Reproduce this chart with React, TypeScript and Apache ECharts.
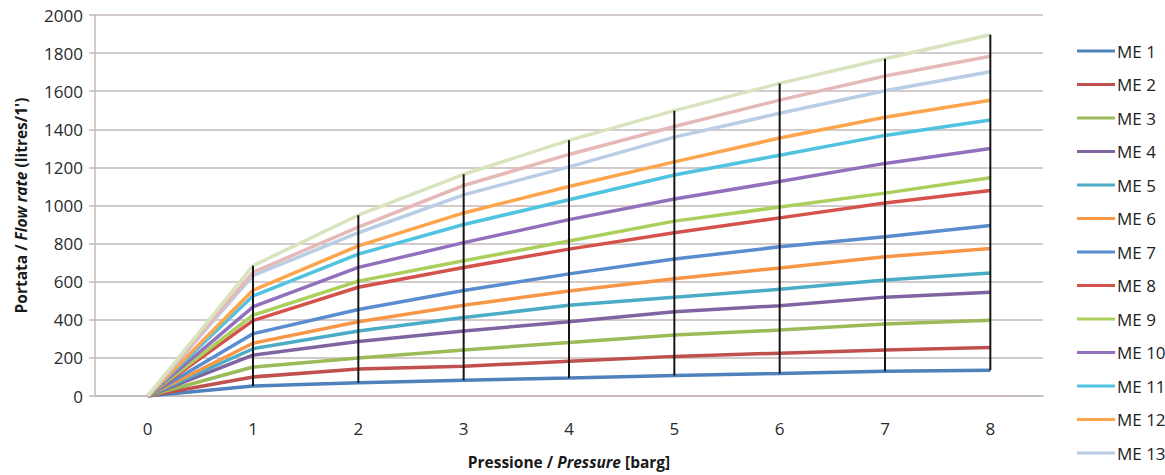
import React, { useEffect, useRef } from "react";
import * as echarts from "echarts";

const categories = ["0", "1", "2", "3", "4", "5", "6", "7", "8"];
const seriesNames = [
  "ME 1", "ME 2", "ME 3", "ME 4", "ME 5", "ME 6", "ME 7", "ME 8",
  "ME 9", "ME 10", "ME 11", "ME 12", "ME 13", "ME 14", "ME 15",
];
const legendNames = seriesNames.slice(0, 13);

const me1 = [0, 52, 69, 83, 95, 108, 118, 130, 135];
const me2 = [0, 100, 142, 156, 182, 208, 225, 242, 254];
const me3 = [0, 152, 199, 242, 281, 320, 346, 378, 397];
const me4 = [0, 215, 286, 341, 390, 442, 474, 519, 545];
const me5 = [0, 248, 341, 412, 476, 519, 560, 609, 646];
const me6 = [0, 277, 390, 476, 551, 615, 672, 731, 774];
const me7 = [0, 327, 454, 554, 641, 719, 783, 836, 895];
const me8 = [0, 396, 571, 675, 771, 857, 935, 1013, 1079];
const me9 = [0, 424, 603, 710, 814, 918, 992, 1065, 1146];
const me10 = [0, 468, 675, 805, 926, 1034, 1126, 1221, 1299];
const me11 = [0, 525, 745, 900, 1030, 1160, 1264, 1368, 1449];
const me12 = [0, 555, 788, 961, 1100, 1229, 1354, 1463, 1553];
const me13 = [0, 632, 857, 1056, 1203, 1359, 1484, 1602, 1702];
const me14 = [0, 649, 887, 1105, 1268, 1415, 1553, 1680, 1783];
const me15 = [0, 684, 949, 1164, 1342, 1498, 1641, 1770, 1896];

const allValues = [me1, me2, me3, me4, me5, me6, me7, me8, me9, me10, me11, me12, me13, me14, me15];

const colors = [
  "#4F81BD", "#C0504D", "#9BBB59", "#8064A2", "#4BACC6", "#F79646",
  "#5A8CD0", "#D4524B", "#AACF5A", "#9270BE", "#4FC3DF", "#FDA54C",
  "#B9CDE5", "#E6B9B8", "#D7E4BD",
];

export default function App() {
  const ref = useRef<HTMLDivElement>(null);

  useEffect(() => {
    if (!ref.current) return;
    const chart = echarts.init(ref.current, undefined, { renderer: "svg" });

    const hiLo = categories
      .map((c, i) => {
        const vals = allValues.map((s) => s[i]);
        return [i, Math.min(...vals), Math.max(...vals)];
      })
      .filter((d) => d[2] > d[1]);

    const lineSeries = seriesNames.map((name, k) => ({
      name,
      type: "line",
      data: allValues[k],
      symbol: "none",
      showSymbol: false,
      lineStyle: { width: 3.5, color: colors[k] },
      itemStyle: { color: colors[k] },
      z: 2,
    }));

    const richName = {
      a: { fontFamily: "Open Sans", fontSize: 15.5, fontWeight: "bold", color: "#1a1a1a" },
      b: { fontFamily: "Open Sans", fontSize: 15.5, fontWeight: "bold", fontStyle: "italic", color: "#1a1a1a" },
    };

    const option = {
      animation: false,
      textStyle: { fontFamily: "Open Sans" },
      grid: { left: 95, right: 122, top: 15, bottom: 75, containLabel: false },
      legend: {
        data: legendNames,
        orient: "vertical",
        left: 1072,
        top: 37,
        icon: "rect",
        itemWidth: 38,
        itemHeight: 3,
        itemGap: 15.5,
        textStyle: { fontFamily: "Open Sans", fontSize: 17, color: "#222", lineHeight: 18, padding: [0, 0, 0, -3] },
      },
      xAxis: {
        type: "category",
        data: categories,
        boundaryGap: true,
        axisLine: { show: true, lineStyle: { color: "#C4BABA", width: 1.5 } },
        axisTick: { show: false },
        axisLabel: { fontFamily: "Open Sans", fontSize: 17, color: "#2a2a2a", margin: 24 },
        name: "{a|Pressione / }{b|Pressure}{a| [barg]}",
        nameLocation: "middle",
        nameGap: 58,
        nameTextStyle: { rich: richName },
      },
      yAxis: {
        type: "value",
        min: 0,
        max: 2000,
        interval: 200,
        axisLine: { show: true, lineStyle: { color: "#C4BABA", width: 1.5 } },
        axisTick: { show: true, length: 6, lineStyle: { color: "#C4BABA", width: 1.5 } },
        axisLabel: {
          fontFamily: "Open Sans",
          fontSize: 17,
          color: "#2a2a2a",
          margin: 12,
          formatter: (v: number) => String(v),
        },
        splitLine: { show: true, lineStyle: { color: "#C4BABA", width: 1.5 } },
        name: "{a|Portata / }{b|Flow rate}{a| (litres/1')}",
        nameLocation: "middle",
        nameGap: 66,
        nameRotate: 90,
        nameTextStyle: { rich: richName },
      },
      series: [
        ...lineSeries,
        {
          name: "hilo",
          type: "custom",
          data: hiLo,
          encode: { x: 0, y: [1, 2] },
          z: 10,
          renderItem: (params: any, api: any) => {
            const x = api.value(0);
            const p1 = api.coord([x, api.value(1)]);
            const p2 = api.coord([x, api.value(2)]);
            return {
              type: "line",
              shape: { x1: p1[0], y1: p1[1], x2: p2[0], y2: p2[1] },
              style: { stroke: "#151515", lineWidth: 2 },
            };
          },
        },
      ],
    };

    chart.setOption(option as any);
    return () => chart.dispose();
  }, []);

  return (
    <div
      ref={ref}
      style={{ position: "fixed", left: 0, top: 0, width: 1165, height: 475, background: "#fff" }}
    />
  );
}
